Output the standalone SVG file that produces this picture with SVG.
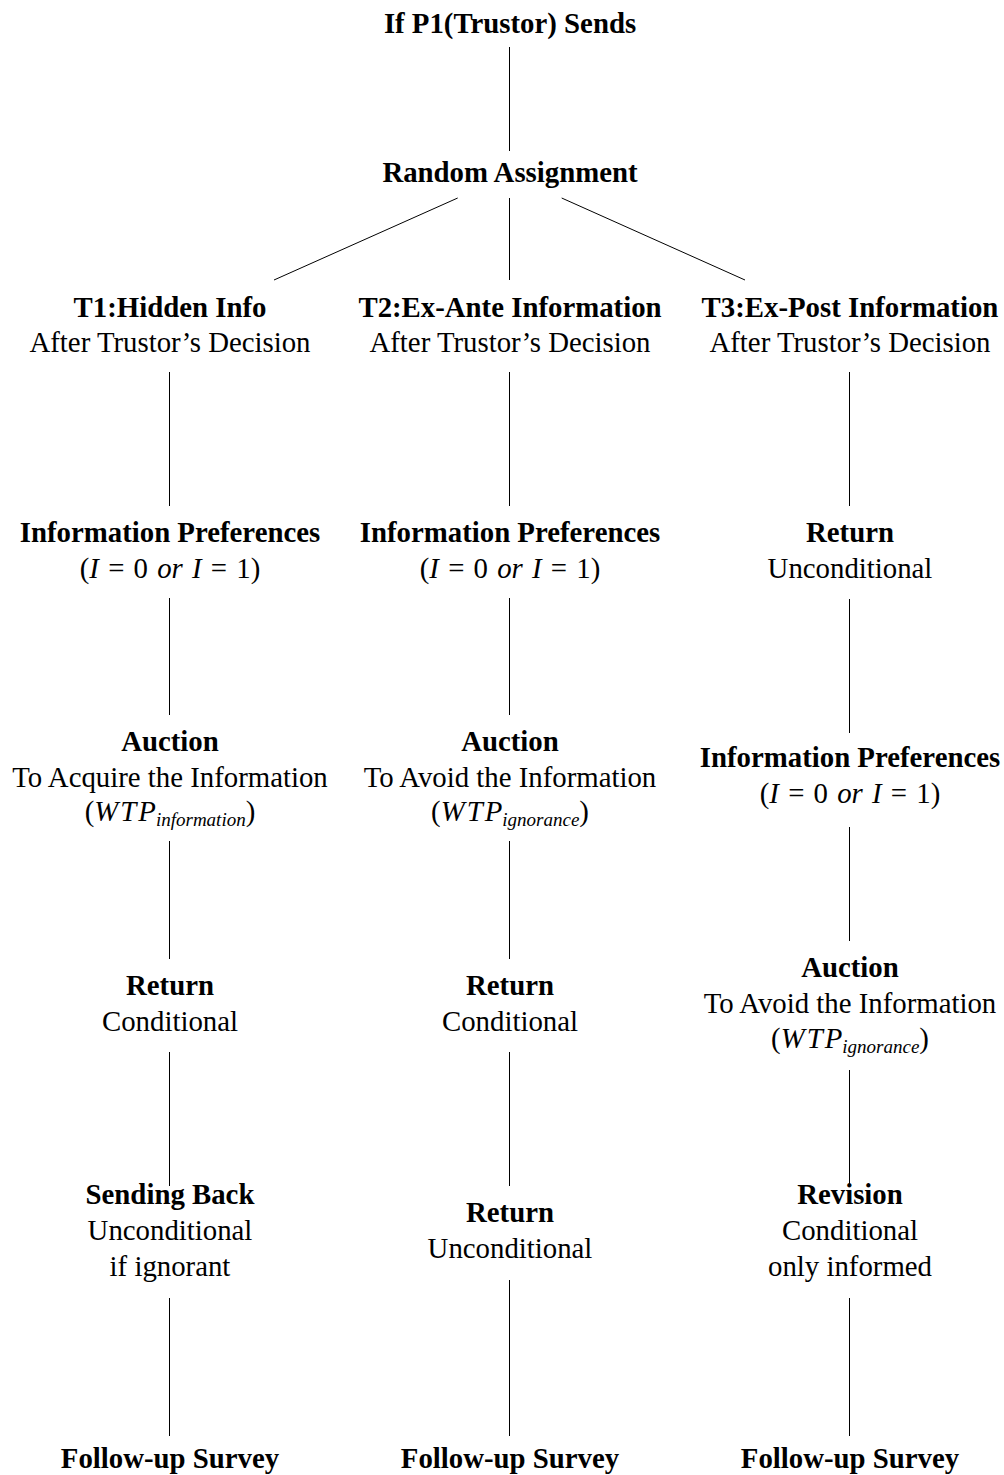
<svg xmlns="http://www.w3.org/2000/svg" width="1004" height="1475" viewBox="0 0 1004 1475">
<style>
text{font-family:"Liberation Serif","Times New Roman",serif;font-size:28.8px;text-anchor:middle;fill:#000}
.b{font-weight:bold}
.i{font-style:italic}
.w{font-style:italic;letter-spacing:2px}
.m{word-spacing:2px}
.s{font-size:19px;font-style:italic}
#connectors line{stroke:#000;stroke-width:1}
</style>
<rect width="1004" height="1475" fill="#fff"/>
<g id="connectors">
<line x1="509.5" y1="47" x2="509.5" y2="151"/>
<line x1="457.7" y1="198" x2="274" y2="280"/>
<line x1="509.5" y1="198" x2="509.5" y2="280"/>
<line x1="561.7" y1="198" x2="745" y2="280"/>
<line x1="169.5" y1="372" x2="169.5" y2="506"/>
<line x1="169.5" y1="598" x2="169.5" y2="715"/>
<line x1="169.5" y1="841" x2="169.5" y2="959"/>
<line x1="169.5" y1="1052" x2="169.5" y2="1186"/>
<line x1="169.5" y1="1298" x2="169.5" y2="1436"/>
<line x1="509.5" y1="372" x2="509.5" y2="506"/>
<line x1="509.5" y1="598" x2="509.5" y2="715"/>
<line x1="509.5" y1="841" x2="509.5" y2="959"/>
<line x1="509.5" y1="1052" x2="509.5" y2="1186"/>
<line x1="509.5" y1="1280" x2="509.5" y2="1436"/>
<line x1="849.5" y1="372" x2="849.5" y2="506"/>
<line x1="849.5" y1="599" x2="849.5" y2="733"/>
<line x1="849.5" y1="827" x2="849.5" y2="941"/>
<line x1="849.5" y1="1070" x2="849.5" y2="1186"/>
<line x1="849.5" y1="1298" x2="849.5" y2="1436"/>
</g>
<g id="start"><text class="b" x="510" y="33">If P1(Trustor) Sends</text></g>
<g id="random"><text class="b" x="510" y="182">Random Assignment</text></g>

<g id="t1"><text class="b" x="170" y="317">T1:Hidden Info</text><text x="170" y="352">After Trustor’s Decision</text></g>
<g id="t2"><text class="b" x="510" y="317">T2:Ex-Ante Information</text><text x="510" y="352">After Trustor’s Decision</text></g>
<g id="t3"><text class="b" x="850" y="317">T3:Ex-Post Information</text><text x="850" y="352">After Trustor’s Decision</text></g>

<g id="t1-pref"><text class="b" x="170" y="542">Information Preferences</text><text class="m" x="170" y="578">(<tspan class="i">I</tspan> = 0 <tspan class="i">or</tspan> <tspan class="i">I</tspan> = 1)</text></g>
<g id="t2-pref"><text class="b" x="510" y="542">Information Preferences</text><text class="m" x="510" y="578">(<tspan class="i">I</tspan> = 0 <tspan class="i">or</tspan> <tspan class="i">I</tspan> = 1)</text></g>
<g id="t3-return1"><text class="b" x="850" y="542">Return</text><text x="850" y="578">Unconditional</text></g>

<g id="t1-auction"><text class="b" x="170" y="751">Auction</text><text x="170" y="787">To Acquire the Information</text><text x="170" y="821">(<tspan class="w">WT</tspan><tspan class="i">P</tspan><tspan class="s" dy="5">information</tspan><tspan dy="-5">)</tspan></text></g>
<g id="t2-auction"><text class="b" x="510" y="751">Auction</text><text x="510" y="787">To Avoid the Information</text><text x="510" y="821">(<tspan class="w">WT</tspan><tspan class="i">P</tspan><tspan class="s" dy="5">ignorance</tspan><tspan dy="-5">)</tspan></text></g>
<g id="t3-pref"><text class="b" x="850" y="767">Information Preferences</text><text class="m" x="850" y="803">(<tspan class="i">I</tspan> = 0 <tspan class="i">or</tspan> <tspan class="i">I</tspan> = 1)</text></g>

<g id="t1-return"><text class="b" x="170" y="995">Return</text><text x="170" y="1031">Conditional</text></g>
<g id="t2-return1"><text class="b" x="510" y="995">Return</text><text x="510" y="1031">Conditional</text></g>
<g id="t3-auction"><text class="b" x="850" y="977">Auction</text><text x="850" y="1013">To Avoid the Information</text><text x="850" y="1048">(<tspan class="w">WT</tspan><tspan class="i">P</tspan><tspan class="s" dy="5">ignorance</tspan><tspan dy="-5">)</tspan></text></g>

<g id="t1-sendback"><text class="b" x="170" y="1204">Sending Back</text><text x="170" y="1240">Unconditional</text><text x="170" y="1276">if ignorant</text></g>
<g id="t2-return2"><text class="b" x="510" y="1222">Return</text><text x="510" y="1258">Unconditional</text></g>
<g id="t3-revision"><text class="b" x="850" y="1204">Revision</text><text x="850" y="1240">Conditional</text><text x="850" y="1276">only informed</text></g>

<g id="t1-survey"><text class="b" x="170" y="1468">Follow-up Survey</text></g>
<g id="t2-survey"><text class="b" x="510" y="1468">Follow-up Survey</text></g>
<g id="t3-survey"><text class="b" x="850" y="1468">Follow-up Survey</text></g>
</svg>
